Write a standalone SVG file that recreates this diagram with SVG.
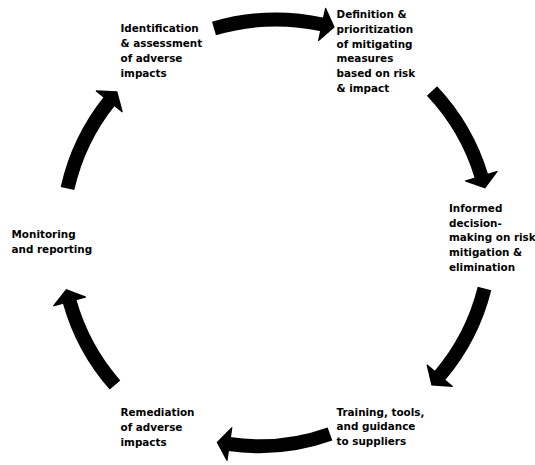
<svg xmlns="http://www.w3.org/2000/svg" width="535" height="465" viewBox="0 0 535 465">
  <style>
    .lbl { font-family: "DejaVu Sans", "Liberation Sans", sans-serif; font-weight: bold; font-size: 10.4px; fill: #000; }
    .arc { fill: none; stroke: #000; stroke-width: 14; stroke-linecap: butt; }
  </style>
  <defs>
    <marker id="head" markerUnits="userSpaceOnUse" viewBox="-2 -18 16 36" markerWidth="16" markerHeight="36" refX="0" refY="0" orient="auto" overflow="visible">
      <path d="M-1,-17 L0,-17 L12.5,0 L0,17 L-1,17 z" fill="#000"/>
    </marker>
  </defs>
  <rect width="535" height="465" fill="#fff"/>
  <g id="connectors">
    <path class="arc" d="M214,28.5 A219,219 0 0 1 322.5,24.5" marker-end="url(#head)"/>
    <path class="arc" d="M432,91 A215,215 0 0 1 481.5,176.5" marker-end="url(#head)"/>
    <path class="arc" d="M484.5,288.5 A215,215 0 0 1 439.5,376" marker-end="url(#head)"/>
    <path class="arc" d="M330,434 A210,210 0 0 1 229,444" marker-end="url(#head)"/>
    <path class="arc" d="M115,385 A215,215 0 0 1 69.5,301" marker-end="url(#head)"/>
    <path class="arc" d="M67.5,188.5 A215,215 0 0 1 109.5,101" marker-end="url(#head)"/>
  </g>
  <g id="node-identification">
    <text class="lbl" x="120.5" y="32.3">Identification</text>
    <text class="lbl" x="120.5" y="47.3">&amp; assessment</text>
    <text class="lbl" x="120.5" y="62.3">of adverse</text>
    <text class="lbl" x="120.5" y="77.3">impacts</text>
  </g>
  <g id="node-definition">
    <text class="lbl" x="336.5" y="18.3">Definition &amp;</text>
    <text class="lbl" x="336.5" y="33">prioritization</text>
    <text class="lbl" x="336.5" y="47.7">of mitigating</text>
    <text class="lbl" x="336.5" y="62.4">measures</text>
    <text class="lbl" x="336.5" y="77.1">based on risk</text>
    <text class="lbl" x="336.5" y="91.8">&amp; impact</text>
  </g>
  <g id="node-informed">
    <text class="lbl" x="449" y="211.7">Informed</text>
    <text class="lbl" x="449" y="226.5">decision-</text>
    <text class="lbl" x="449" y="241.3">making on risk</text>
    <text class="lbl" x="449" y="256.1">mitigation &amp;</text>
    <text class="lbl" x="449" y="270.9">elimination</text>
  </g>
  <g id="node-training">
    <text class="lbl" x="336.5" y="415.5">Training, tools,</text>
    <text class="lbl" x="336.5" y="430.3">and guidance</text>
    <text class="lbl" x="336.5" y="445.1">to suppliers</text>
  </g>
  <g id="node-remediation">
    <text class="lbl" x="120.5" y="416">Remediation</text>
    <text class="lbl" x="120.5" y="430.8">of adverse</text>
    <text class="lbl" x="120.5" y="445.6">impacts</text>
  </g>
  <g id="node-monitoring">
    <text class="lbl" x="11.5" y="238.3">Monitoring</text>
    <text class="lbl" x="11.5" y="253.3">and reporting</text>
  </g>
</svg>
